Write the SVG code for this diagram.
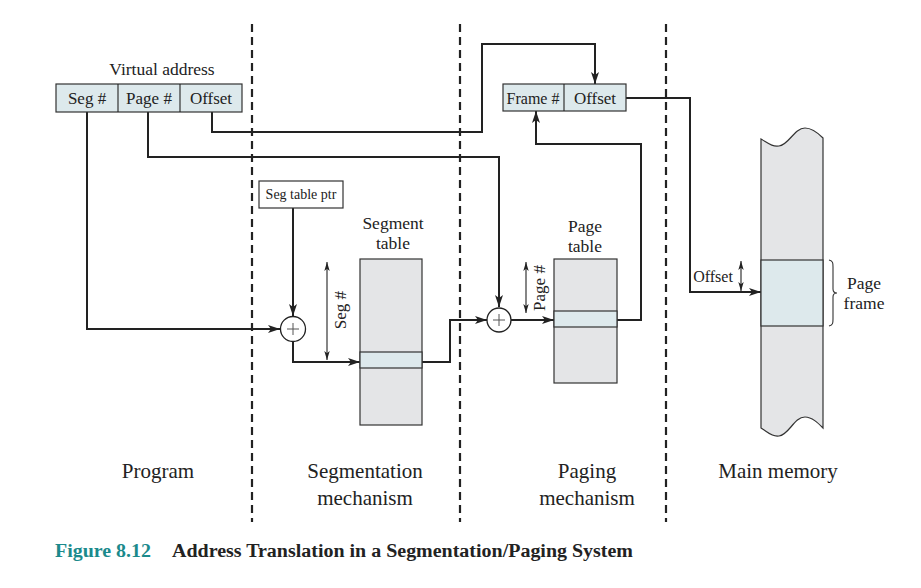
<svg xmlns="http://www.w3.org/2000/svg" width="921" height="588" viewBox="0 0 921 588">
<style>
text{font-family:"Liberation Serif","Times New Roman",serif;fill:#222}
.lbl{font-size:17px}
.big{font-size:21px;text-anchor:middle}
.mid{font-size:17.5px;text-anchor:middle}
.box{fill:#dde9ec;stroke:#333;stroke-width:1.2}
.gray{fill:#e4e5e7;stroke:#333;stroke-width:1.2}
.wire{fill:none;stroke:#222;stroke-width:2}
.thin{fill:none;stroke:#222;stroke-width:1.1}
.dash{stroke:#222;stroke-width:2.2;stroke-dasharray:8,5}
</style>
<defs>
<marker id="ah" viewBox="0 0 12 8" refX="12" refY="4" markerWidth="12" markerHeight="8" markerUnits="userSpaceOnUse" orient="auto">
<path d="M0,0 L12,4 L0,8 L3,4 Z" fill="#222"/>
</marker>
<marker id="sa" viewBox="0 0 10 6" refX="10" refY="3" markerWidth="9" markerHeight="6" markerUnits="userSpaceOnUse" orient="auto-start-reverse">
<path d="M0,0 L10,3 L0,6 L2.5,3 Z" fill="#222"/>
</marker>
</defs>
<rect width="921" height="588" fill="#fff"/>
<g id="dividers">
<line class="dash" x1="252" y1="24" x2="252" y2="522"/>
<line class="dash" x1="460" y1="24" x2="460" y2="522"/>
<line class="dash" x1="666" y1="24" x2="666" y2="522"/>
</g>
<g id="connectors">
<path class="wire" d="M87,112 V329 H280" marker-end="url(#ah)"/>
<path class="wire" d="M148,112 V157 H499 V307" marker-end="url(#ah)"/>
<path class="wire" d="M212,112 V132 H482 V44 H595 V84" marker-end="url(#ah)"/>
<path class="wire" d="M293,208 V316" marker-end="url(#ah)"/>
<path class="wire" d="M293,341 V362 H360" marker-end="url(#ah)"/>
<path class="wire" d="M422,362 H450 V320 H487" marker-end="url(#ah)"/>
<path class="wire" d="M511,320 H554" marker-end="url(#ah)"/>
<path class="wire" d="M617,320 H641 V144 H536 V111" marker-end="url(#ah)"/>
<path class="wire" d="M626,98 H690 V292 H761" marker-end="url(#ah)"/>
<line class="thin" x1="327" y1="262" x2="327" y2="360" marker-start="url(#sa)" marker-end="url(#sa)"/>
<line class="thin" x1="526" y1="262" x2="526" y2="313" marker-start="url(#sa)" marker-end="url(#sa)"/>
<line class="thin" x1="741" y1="261" x2="741" y2="291" marker-start="url(#sa)" marker-end="url(#sa)"/>
</g>
<g id="virtual-address">
<text x="162" y="75" font-size="17.5" text-anchor="middle">Virtual address</text>
<rect class="box" x="56" y="84" width="186" height="28"/>
<line class="thin" x1="118" y1="84" x2="118" y2="112"/>
<line class="thin" x1="180" y1="84" x2="180" y2="112"/>
<text class="lbl" x="87" y="104" text-anchor="middle">Seg #</text>
<text class="lbl" x="149" y="104" text-anchor="middle">Page #</text>
<text class="lbl" x="211" y="104" text-anchor="middle">Offset</text>
</g>
<g id="seg-table-ptr">
<rect x="259" y="181" width="84" height="27" fill="#fff" stroke="#333" stroke-width="1.2"/>
<text x="301" y="199" font-size="14" text-anchor="middle">Seg table ptr</text>
</g>
<g id="adder1">
<circle cx="293" cy="329" r="12.5" fill="#fff" stroke="#222" stroke-width="1.3"/>
<path d="M287,329 H299 M293,323 V335" stroke="#555" stroke-width="1"/>
</g>
<g id="segment-table">
<text class="mid" x="393" y="229">Segment</text>
<text class="mid" x="393" y="249">table</text>
<rect class="gray" x="360" y="259" width="62" height="166"/>
<rect class="box" x="360" y="352" width="62" height="16"/>
<text class="lbl" transform="translate(346,310) rotate(-90)" text-anchor="middle">Seg #</text>
</g>
<g id="adder2">
<circle cx="499" cy="320" r="12" fill="#fff" stroke="#222" stroke-width="1.3"/>
<path d="M493,320 H505 M499,314 V326" stroke="#555" stroke-width="1"/>
</g>
<g id="page-table">
<text class="mid" x="585" y="232">Page</text>
<text class="mid" x="585" y="252">table</text>
<rect class="gray" x="554" y="259" width="63" height="124"/>
<rect class="box" x="554" y="311" width="63" height="16"/>
<text class="lbl" transform="translate(545,288) rotate(-90)" text-anchor="middle">Page #</text>
</g>
<g id="physical-address">
<rect class="box" x="503" y="84" width="123" height="27"/>
<line class="thin" x1="564" y1="84" x2="564" y2="111"/>
<text x="533" y="104" font-size="16" text-anchor="middle">Frame #</text>
<text class="lbl" x="595" y="104" text-anchor="middle">Offset</text>
</g>
<g id="main-memory">
<path class="gray" d="M761,139 C768,143 772,147 779,146 C789,145 794,128 805,128 C812,128 818,133 823,138 V428 C818,423 812,417 805,417 C794,417 789,435 779,436 C772,437 768,432 761,428 Z"/>
<rect class="box" x="761" y="260" width="62" height="66"/>
<text x="713" y="282" font-size="16" text-anchor="middle">Offset</text>
<path d="M829,260 C833,261 833,263 833,267 V289 C833,292 835,293 837,293 C835,293 833,294 833,297 V319 C833,323 833,325 829,326" fill="none" stroke="#333" stroke-width="1.1"/>
<text class="mid" x="864" y="289">Page</text>
<text class="mid" x="864" y="309">frame</text>
</g>
<g id="section-labels">
<text class="big" x="158" y="478">Program</text>
<text class="big" x="365" y="478">Segmentation</text>
<text class="big" x="365" y="505">mechanism</text>
<text class="big" x="587" y="478">Paging</text>
<text class="big" x="587" y="505">mechanism</text>
<text class="big" x="778" y="478">Main memory</text>
</g>
<g id="caption">
<text x="55" y="557" font-size="18" font-weight="bold" style="fill:#1b8a8c" textLength="96" lengthAdjust="spacingAndGlyphs">Figure 8.12</text>
<text x="172" y="557" font-size="18" font-weight="bold" textLength="461" lengthAdjust="spacingAndGlyphs">Address Translation in a Segmentation/Paging System</text>
</g>
</svg>
